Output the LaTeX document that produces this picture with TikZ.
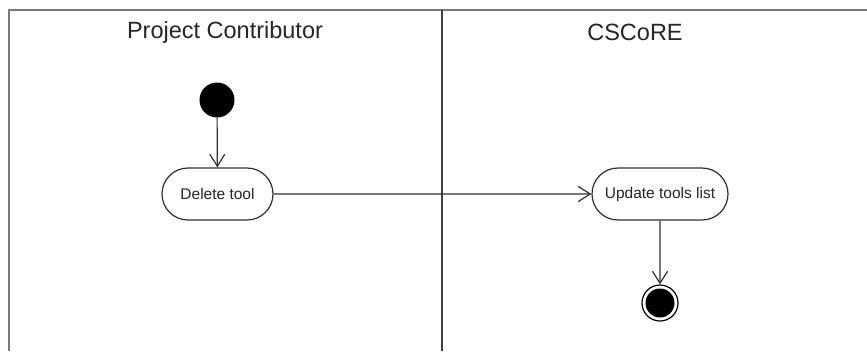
\documentclass[tikz,border=0pt]{standalone}
\usepackage{fontspec}
\setmainfont{Liberation Sans}
\usetikzlibrary{arrows.meta,shapes.misc}
\definecolor{framegray}{HTML}{7A7A7A}
\definecolor{divgray}{HTML}{404040}
\definecolor{linegray}{HTML}{303030}
\begin{document}
\begin{tikzpicture}[x=1pt,y=-1pt,
  lanetitle/.style={font=\fontsize{23.5}{26}\selectfont, text=black!85, inner sep=0pt},
  action/.style={rounded rectangle, draw=linegray, line width=1.2pt, fill=white,
    minimum height=52pt, inner sep=0pt, font=\fontsize{15.5}{18}\selectfont, text=black!85},
  flow/.style={draw=linegray, line width=1.2pt, -{Straight Barb[length=12pt,width=15pt,line width=1.2pt]}},
  startdot/.style={circle, fill=black, minimum size=35pt, inner sep=0pt},
  enddot/.style={circle, draw=black, line width=1.2pt, fill=white, minimum size=36pt, inner sep=0pt}
]
\useasboundingbox (0,0) rectangle (867,351);
\fill[white] (0,0) rectangle (867,351);
% lane frame
\draw[framegray, line width=2.2pt] (9,351) -- (9,10) -- (867,10);
\draw[divgray, line width=2.2pt] (442,10) -- (442,351);
% lane titles
\node[lanetitle] (t1) at (225,32) {Project Contributor};
\node[lanetitle] (t2) at (635,32) {CSCoRE};
% nodes
\node[startdot] (start) at (217,100) {};
\node[action, minimum width=111pt] (del) at (217.5,194) {Delete tool};
\node[action, minimum width=136pt] (upd) at (660,194) {Update tools list};
\node[enddot] (end) at (660,303) {};
\node[circle, fill=black, minimum size=29pt, inner sep=0pt] (endin) at (end.center) {};
% connectors
\draw[flow] (start) -- (del);
\draw[flow] (del) -- (upd);
\draw[flow] (upd) -- (end);
\end{tikzpicture}
\end{document}
